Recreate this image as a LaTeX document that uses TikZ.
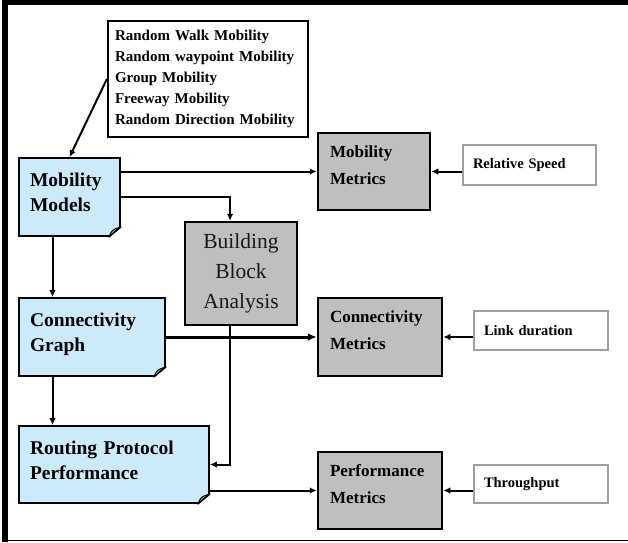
\documentclass[tikz,border=0pt]{standalone}
\usepackage{fontspec}
\setmainfont{Liberation Serif}
\usetikzlibrary{arrows.meta}

\definecolor{modelblue}{RGB}{205,234,250}
\definecolor{foldblue}{RGB}{150,182,205}
\definecolor{metricgray}{RGB}{191,191,191}

% folded lower right corner of a model box
\newcommand{\foldcorner}[1]{%
  \fill[white] ([xshift=-12pt]#1.south east) -- ([xshift=-12pt,yshift=-2pt]#1.south east)
    -- ([xshift=2pt,yshift=-2pt]#1.south east) -- ([xshift=2pt,yshift=10pt]#1.south east)
    -- ([yshift=10pt]#1.south east) -- cycle;
  \draw[line width=1pt, fill=foldblue, line join=round] ([xshift=-12pt]#1.south east)
    .. controls ([xshift=-9pt,yshift=7pt]#1.south east) .. ([yshift=10pt]#1.south east) -- cycle;
  \draw[line width=1.5pt, line cap=round] ([xshift=-12pt]#1.south east) -- ([yshift=10pt]#1.south east);
}

\begin{document}
\begin{tikzpicture}[
    x=1pt, y=-1pt,
    model/.style={rectangle, draw=black, line width=1.8pt, fill=modelblue, align=left,
        inner xsep=11pt, minimum height=78pt, text depth=34pt,
        font=\bfseries\fontsize{19.5}{25}\selectfont},
    metric/.style={rectangle, draw=black, line width=2.5pt, fill=metricgray, align=left,
        inner xsep=12pt, minimum height=77pt, text depth=40pt,
        font=\bfseries\fontsize{17}{27}\selectfont},
    param/.style={rectangle, draw=gray!75, line width=1.5pt, fill=white, align=left,
        inner xsep=10pt, font=\bfseries\fontsize{14.5}{17}\selectfont},
    connector/.style={line width=2pt, -{Latex[length=7pt,width=6.5pt]}}
]
\useasboundingbox (0,0) rectangle (628,542);

% frame
\draw[line width=6pt] (5,0) -- (5,542);
\draw[line width=5pt] (2,2.5) -- (628,2.5);
\draw[line width=1.5pt] (5,540.5) -- (628,540.5);

% model list
\node (lst) [rectangle, draw=black, line width=2.2pt, fill=white, align=left, inner xsep=7pt,
    text width=186pt, minimum height=116pt, font=\bfseries\fontsize{15}{21}\selectfont]
    at (208,79) {Random Walk Mobility\\Random waypoint Mobility\\Group Mobility\\Freeway Mobility\\Random Direction Mobility};

% left column
\node (mm) [model, text width=79pt] at (69.5,197) {Mobility\\Models};
\node (cg) [model, text width=124pt] at (92,337) {Connectivity\\Graph};
\node (rp) [model, text width=168pt, minimum height=77pt] at (114,464.5) {Routing Protocol\\Performance};
\foldcorner{mm}
\foldcorner{cg}
\foldcorner{rp}

\node (bba) [rectangle, draw=black, line width=2.5pt, fill=metricgray, align=center,
    minimum width=112pt, minimum height=103pt, text=black!90,
    font=\fontsize{21.5}{30}\selectfont] at (241,273.5) {Building\\Block\\Analysis};

% metrics
\node (mmet) [metric, text width=88pt] at (374,171.5) {Mobility\\Metrics};
\node (cmet) [metric, text width=100pt, minimum height=78pt] at (380,337) {Connectivity\\Metrics};
\node (pmet) [metric, text width=100pt] at (380,490.5) {Performance\\Metrics};

% parameters
\node (rs) [param, text width=113pt, minimum height=40pt] at (529.5,165) {Relative Speed};
\node (ld) [param, text width=114pt, minimum height=39pt] at (541,330.5) {Link duration};
\node (tp) [param, text width=114pt, minimum height=38pt] at (541,484) {Throughput};

\draw [connector] (lst.west) -- (mm.north);
\draw [connector] (mm.east |- mmet.west) -- (mmet.west);
\draw [connector] (mm.east) -| ([xshift=-11pt]bba.north);
\draw [connector] ([xshift=-17pt]mm.south) -- ([xshift=-17pt]mm.south |- cg.north);
\draw [connector] ([xshift=-17pt]mm.south |- cg.south) -- ([xshift=-17pt]mm.south |- rp.north);
\draw [connector, line width=3pt, -{Latex[length=9pt,width=8pt]}] (cg.east) -- (cmet.west);
\draw [connector] ([xshift=-11pt]bba.south) |- (rp.east);
\draw [connector] (rp.east |- pmet.west) -- (pmet.west);
\draw [connector] (rs.west |- mmet.east) -- (mmet.east);
\draw [connector] (ld.west |- cmet.east) -- (cmet.east);
\draw [connector] (tp.west |- pmet.east) -- (pmet.east);

\end{tikzpicture}
\end{document}
